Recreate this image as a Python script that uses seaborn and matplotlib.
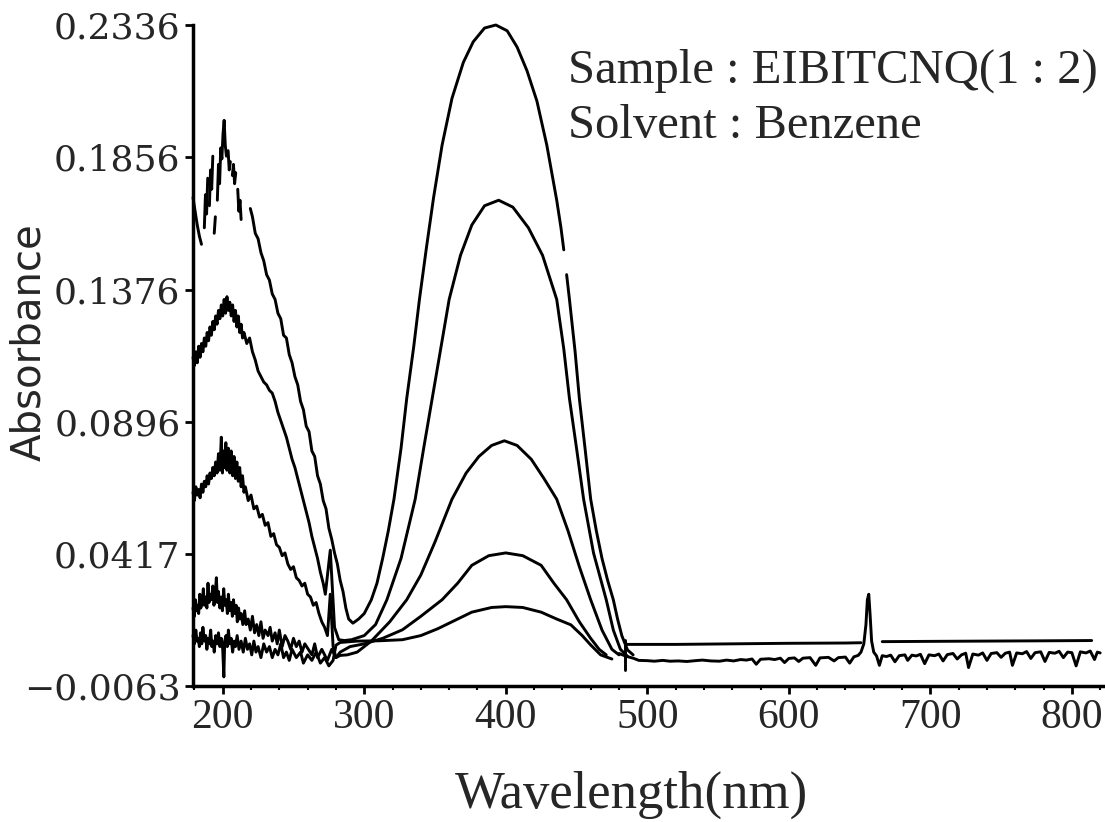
import numpy as np
import pandas as pd
import seaborn as sns
import matplotlib.pyplot as plt
from matplotlib.ticker import MultipleLocator

nan = np.nan

# curve 1 (strongest band, ~394 nm), nan = gap in the trace
c1_nm = [179, 180.5, 182, 183.5, 185, nan,
         187, 187.8, 188.6, 189.4, nan,
         190.6, 191.4, 192.2, 193, nan,
         194, 194.8, nan,
         196.2, 197, 197.8, 198.6, 199.4, 200.2, 201, 201.8, 202.6, nan,
         203.8, 204.6, 205.4, nan,
         206.8, 207.6, 208.4, 209.2, nan,
         210.6, 211.4, 212.2, 213, nan,
         219.5, 221, 223, 225, 227, 229, 231, 233, 235, 237, 239, 241, 243, 245, 247, 249,
         251, 253, 255, 257, 259, 261, 263, 265, 267, 269, 271, 273, 275, 277, 279, 281,
         283, 285, 287, 289, 292, 296, 300, 305, 309, 313, 317, 321, 326, 330, 335, 339,
         344, 349, 355, 362, 370, 377, 385, 393, 401, 408, 415, 422, 429, 436, 439, 441, nan,
         443, 445, 449, 452, 456, 460, 464, 468, 472, 476, 479, 482, 486, 490]
c1_abs = [0.171, 0.166, 0.161, 0.157, 0.154, nan,
          0.160, 0.172, 0.165, 0.178, nan,
          0.168, 0.181, 0.174, 0.186, nan,
          0.158, 0.164, nan,
          0.170, 0.183, 0.176, 0.189, 0.185, 0.194, 0.199, 0.190, 0.186, nan,
          0.188, 0.181, 0.184, nan,
          0.179, 0.183, 0.176, 0.180, nan,
          0.174, 0.166, 0.170, 0.163, nan,
          0.167, 0.164, 0.158, 0.156, 0.151, 0.148, 0.143, 0.141, 0.136, 0.134, 0.129, 0.127, 0.121, 0.120, 0.114, 0.111,
          0.106, 0.103, 0.097, 0.094, 0.088, 0.086, 0.079, 0.077, 0.070, 0.067, 0.061, 0.058, 0.051, 0.047, 0.042, 0.038,
          0.032, 0.028, 0.022, 0.018, 0.0165, 0.018, 0.020, 0.025, 0.031, 0.040, 0.050, 0.0615, 0.080, 0.098, 0.117, 0.134,
          0.153, 0.171, 0.190, 0.207, 0.220, 0.2275, 0.2325, 0.2336, 0.2315, 0.2256, 0.217, 0.206, 0.190, 0.170, 0.160, 0.152, nan,
          0.143, 0.134, 0.115, 0.098, 0.080, 0.0615, 0.050, 0.040, 0.032, 0.025, 0.018, 0.012, 0.0068, 0.005]

# curve 2
c2_nm = [179, 180, 181, 182, 183, 184, 185, 186, 187, 188, 189, 190, 191, 192, 193, 194, 195, 196,
         197, 198, 199, 200, 201, 202, 203, 204, 205, 206, 207, 208, 209, 210, 211, 212, 213, 214,
         215, 217, 219, 221, 223, 225, 227, 229, 231, 233, 235, 237, 239, 241, 243, 245, 247, 249,
         251, 253, 255, 257, 259, 261, 263, 265, 267, 269, 271, 272.5, 276, 279, 282, 286, 291,
         300, 308, 316, 326, 336, 342, 348, 354, 360, 368, 376, 385, 395, 405, 416, 426, 436,
         441, 445, 450, 455, 462, 471, 476, 481, 486]
c2_abs = [0.113, 0.110, 0.115, 0.111, 0.117, 0.113, 0.118, 0.115, 0.120, 0.117, 0.122, 0.119, 0.124, 0.121, 0.126, 0.123, 0.128, 0.125,
          0.130, 0.127, 0.132, 0.128, 0.134, 0.129, 0.135, 0.130, 0.133, 0.128, 0.132, 0.126, 0.130, 0.124, 0.128, 0.122, 0.125, 0.120,
          0.122, 0.118, 0.120, 0.115, 0.112, 0.108, 0.106, 0.104, 0.103, 0.101, 0.100, 0.097, 0.093, 0.090, 0.087, 0.084, 0.080, 0.076,
          0.073, 0.069, 0.065, 0.061, 0.057, 0.053, 0.048, 0.044, 0.040, 0.035, 0.031, 0.027, 0.043, 0.015, 0.0105, 0.0102, 0.0105,
          0.012, 0.016, 0.025, 0.040, 0.0615, 0.080, 0.098, 0.116, 0.134, 0.150, 0.161, 0.168, 0.170, 0.1675, 0.160, 0.150, 0.134,
          0.116, 0.098, 0.080, 0.0615, 0.042, 0.025, 0.014, 0.007, 0.0045]

# curve 3
c3_nm = [179, 180, 181, 182, 183, 184, 185, 186, 187, 188, 189, 190, 191, 192, 193, 194, 195, 196,
         197, 198, 199, 199.8, 200.6, 201.4, 202.2, 203, 204, 205, 206, 207, 208, 209, 210, 211, 212, 213,
         214, 215, 216, 218, 220, 222, 224, 226, 228, 230, 232, 234, 236, 238, 240, 242, 244, 246,
         248, 250, 252, 254, 256, 258, 260, 262, 264, 266, 268, 270, 272, 274, 276, 278, 280, 283, 288,
         295, 305, 318, 330, 340, 350, 362, 372, 381, 390, 399, 408, 418, 427, 436, 444, 452, 460,
         468, 475, 480]
c3_abs = [0.064, 0.061, 0.066, 0.063, 0.065, 0.062, 0.067, 0.064, 0.068, 0.066, 0.070, 0.067, 0.071, 0.069, 0.073, 0.070, 0.075, 0.071,
          0.078, 0.072, 0.084, 0.071, 0.079, 0.073, 0.082, 0.072, 0.080, 0.071, 0.079, 0.070, 0.077, 0.069, 0.075, 0.068, 0.073, 0.066,
          0.070, 0.064, 0.066, 0.061, 0.063, 0.058, 0.059, 0.055, 0.056, 0.052, 0.053, 0.048, 0.049, 0.045, 0.044, 0.041, 0.042, 0.038,
          0.036, 0.037, 0.033, 0.032, 0.030, 0.031, 0.027, 0.026, 0.023, 0.024, 0.020, 0.017, 0.015, 0.012, 0.027, 0.008, 0.004, 0.0048, 0.0050,
          0.006, 0.010, 0.017, 0.025, 0.034, 0.046, 0.0615, 0.071, 0.077, 0.081, 0.0827, 0.081, 0.076, 0.069, 0.0615, 0.050, 0.037, 0.025,
          0.014, 0.007, 0.005]

# curve 4
c4_nm = [179, 180, 180.7, 181.5, 182.3, 183, 183.8, 184.5, 185.5, 186.3, 187, 188, 188.8, 189.6, 190.3, 191.2,
         192, 193, 193.8, 194.6, 195.5, 196.3, 197, 198, 199, 199.8, 200.7, 201.5, 202.5, 203.3, 204, 205,
         206, 206.8, 207.6, 208.5, 209.5, 210.3, 211.2, 212, 213, 214.2, 215.5, 216.5, 218, 219.5, 221, 222.5,
         224, 225.5, 227, 228.5, 230, 232, 233.5, 235, 237, 238.5, 240, 242, 244, 246, 248, 250, 252, 254,
         256, 258, 260.5, 263, 265, 267, 270, 272, 274, 277, 280, 283, 290, 300, 313, 327, 340, 355, 366,
         376, 388, 400, 412, 425, 434, 443, 452, 460, 466, 471]
c4_abs = [0.022, 0.019, 0.025, 0.021, 0.023, 0.020, 0.027, 0.022, 0.024, 0.029, 0.023, 0.026, 0.022, 0.031, 0.024, 0.027,
          0.025, 0.030, 0.023, 0.026, 0.033, 0.024, 0.028, 0.022, 0.026, 0.021, 0.029, 0.023, 0.025, 0.020, 0.027, 0.021,
          0.024, 0.019, 0.025, 0.020, 0.023, 0.017, 0.022, 0.018, 0.020, 0.016, 0.021, 0.016, 0.018, 0.014, 0.019, 0.013,
          0.016, 0.012, 0.017, 0.011, 0.014, 0.012, 0.015, 0.010, 0.013, 0.009, 0.014, 0.008, 0.012, 0.010, 0.007, 0.011, 0.008, 0.010,
          0.006, 0.009, 0.007, 0.005, 0.009, 0.004, 0.007, 0.005, 0.003, 0.007, 0.004, 0.006, 0.008, 0.009, 0.011, 0.0141, 0.019, 0.025, 0.031,
          0.0375, 0.041, 0.042, 0.041, 0.0375, 0.031, 0.025, 0.017, 0.011, 0.007, 0.005]

# curve 5 (weakest band)
c5_nm = [179, 180, 181, 181.8, 182.7, 183.5, 184.3, 185.2, 186, 187, 188, 188.8, 189.7, 190.5, 191.5, 192.3,
         193.2, 194, 195, 196, 197, 198, 199, 200, 200.8, 201.4, 202.3, 203.2, 204, 205, 206, 207,
         208, 209, 210.2, 211.5, 213, 214.5, 216, 217.5, 219, 220.5, 222, 223.5, 225, 227, 229, 231,
         233, 235, 237, 239, 241, 243, 245, 247, 249, 252, 255, 257, 260, 263, 266, 269, 272, 275,
         278, 280, 283, 295, 310, 327, 340, 352, 364, 376, 390, 400, 412, 425, 436, 446, 454, 460, 467, 475]
c5_abs = [0.012, 0.009, 0.014, 0.010, 0.011, 0.008, 0.013, 0.009, 0.015, 0.010, 0.012, 0.007, 0.011, 0.009, 0.014, 0.008,
          0.010, 0.006, 0.012, 0.009, 0.013, 0.008, 0.011, 0.007, -0.003, 0.010, 0.012, 0.008, 0.014, 0.009, 0.011, 0.006,
          0.010, 0.008, 0.012, 0.007, 0.010, 0.006, 0.011, 0.007, 0.009, 0.005, 0.010, 0.006, 0.008, 0.004, 0.009, 0.006,
          0.008, 0.004, 0.007, 0.005, 0.009, 0.004, 0.006, 0.003, 0.007, 0.004, 0.006, 0.002, 0.005, 0.003, 0.006, 0.002, 0.004, 0.001,
          0.003, 0.0085, 0.0095, 0.0100, 0.0101, 0.0105, 0.012, 0.0145, 0.0175, 0.0205, 0.0222, 0.0225, 0.0222, 0.0205, 0.018, 0.0159,
          0.012, 0.0086, 0.005, 0.0035]

# common baseline above 480 nm, with the 656 nm lamp line
base_nm = [480, 485, 490, 494, 500, 505, 511, 516, 522, 528, 534, 539, 545, 551, 556, 561, 566, 570,
           574, 577, 580, 586, 590, 594, 597, 600, 604, 607, 610, 615, 619, 622, 628, 632, 635, 640,
           643, 646, 649, 651, 653, 654.5, 655.5, 656.5, 657.5, 658.5, 660, 662, 664, 666, 669, 672,
           675, 678, 682, 684, 687, 690, 693, 696, 699, 703, 706, 709, 712, 716, 719, 722, 725, 727,
           730, 734, 737, 740, 743, 747, 750, 753, 756, 758, 761, 765, 768, 771, 774, 778, 781, 784,
           788, 791, 794, 797, 800, 803, 806, 810, 813, 816, 818, 820]
base_abs = [0.0055, 0.0045, 0.0038, 0.0030, 0.0029, 0.0027, 0.0030, 0.0027, 0.0028, 0.0026, 0.0029, 0.0031, 0.0028, 0.0027, 0.0031, 0.0028, 0.0033, 0.0031,
            0.0035, 0.0016, 0.0034, 0.0036, 0.0033, 0.0038, 0.0022, 0.0037, 0.0039, 0.0026, 0.0038, 0.0040, 0.0012, 0.0039, 0.0041, 0.0028, 0.0040, 0.0042,
            0.0020, 0.0043, 0.0048, 0.0060, 0.0090, 0.016, 0.025, 0.027, 0.019, 0.010, 0.006, 0.0046, 0.0012, 0.0047, 0.0044, 0.0049,
            0.0025, 0.0047, 0.0050, 0.0030, 0.0049, 0.0046, 0.0052, 0.0018, 0.0050, 0.0047, 0.0053, 0.0028, 0.0051, 0.0055, 0.0035, 0.0050, 0.0056, 0.0004,
            0.0053, 0.0049, 0.0057, 0.0030, 0.0055, 0.0058, 0.0041, 0.0056, 0.0060, 0.0012, 0.0057, 0.0054, 0.0062, 0.0037, 0.0058, 0.0061, 0.0026, 0.0059,
            0.0056, 0.0063, 0.0040, 0.0060, 0.0058, 0.0010, 0.0061, 0.0057, 0.0064, 0.0033, 0.0060, 0.0057]

# flat offset trace starting at the lamp-change mark
flat_nm = [484, 484, nan, 485, 520, 560, 600, 640, 651, nan, 666, 700, 740, 780, 814]
flat_abs = [-0.0005, 0.0105, nan, 0.0088, 0.0088, 0.0090, 0.0092, 0.0093, 0.0094, nan, 0.0098, 0.0099, 0.0100, 0.0101, 0.0102]

yticks = [-0.0063, 0.0417, 0.0896, 0.1376, 0.1856, 0.2336]
ytick_labels = ['\u22120.0063', '0.0417', '0.0896', '0.1376', '0.1856', '0.2336']
xticks = [200, 300, 400, 500, 600, 700, 800]

traces = [('c1', c1_nm, c1_abs), ('c2', c2_nm, c2_abs), ('c3', c3_nm, c3_abs),
          ('c4', c4_nm, c4_abs), ('c5', c5_nm, c5_abs),
          ('base', base_nm, base_abs), ('flat', flat_nm, flat_abs)]
frames = []
for name, xs, ys in traces:
    d = pd.DataFrame({'nm': xs, 'A': ys})
    d['seg'] = name + '_' + d['A'].isna().cumsum().astype(str)
    frames.append(d.dropna())
df = pd.concat(frames, ignore_index=True)

sns.set_style('ticks')
plt.rcParams['font.family'] = ['DejaVu Serif']

fig, ax = plt.subplots(figsize=(11.05, 8.22), dpi=100)
fig.subplots_adjust(left=193/1105, right=1103/1105, top=1 - 25/822, bottom=1 - 686/822)

sns.lineplot(data=df, x='nm', y='A', units='seg', estimator=None, sort=False,
             color='black', lw=2.1, ax=ax, legend=False)
for ln in ax.lines:
    ln.set_clip_on(False)
    ln.set_solid_joinstyle('round')

ax.set_xlim(179, 822)
ax.set_ylim(-0.0063, 0.2336)
ax.set_yticks(yticks)
ax.set_yticklabels(ytick_labels, fontsize=26, family='DejaVu Serif')
ax.set_xticks(xticks)
ax.set_xticklabels([str(v) for v in xticks], fontsize=30, family='Liberation Serif')
ax.xaxis.set_minor_locator(MultipleLocator(20))
ax.tick_params(which='major', direction='out', length=6, width=2, pad=3, color='black')
ax.tick_params(which='minor', direction='out', length=3, width=1.5, color='black')

sns.despine(ax=ax)
for s in ['left', 'bottom']:
    ax.spines[s].set_linewidth(2.5)
    ax.spines[s].set_color('black')

ax.set_xlabel('Wavelength(nm)', fontsize=38, family='Liberation Serif')
ax.set_ylabel('Absorbance', fontsize=29, family='DejaVu Sans')
ax.xaxis.set_label_coords(0.482, -0.128)
ax.yaxis.set_label_coords(-0.158, 0.52)

ax.text(0.412, 0.930, 'Sample : EIBITCNQ(1 : 2)', transform=ax.transAxes,
        fontsize=35, family='Liberation Serif', ha='left', va='center')
ax.text(0.412, 0.847, 'Solvent : Benzene', transform=ax.transAxes,
        fontsize=35, family='Liberation Serif', ha='left', va='center')

fig.savefig('out.png', dpi=100, facecolor='white')
